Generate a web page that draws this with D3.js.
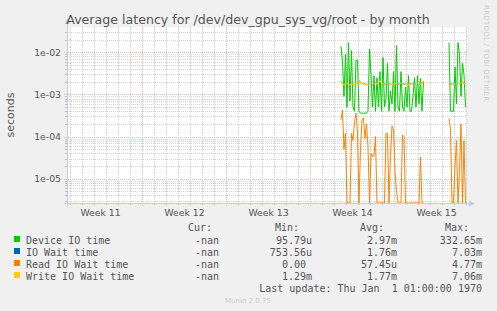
<!DOCTYPE html>
<html>
<head>
<meta charset="utf-8">
<script src="https://cdn.jsdelivr.net/npm/d3@7"></script>
<style>
  body { margin: 0; background: #f0f0f0; }
  svg { display: block; }
  .mono { font-family: "DejaVu Sans Mono", monospace; font-size: 10px; fill: #555; white-space: pre; }
</style>
</head>
<body>
<div class="wrap"></div>
<script>
var width = 497, height = 311;

// time is in days since the start of Week 11
var weekLabels = ["Week 11", "Week 12", "Week 13", "Week 14", "Week 15"];
var weekMid = [3.5, 10.5, 17.5, 24.5, 31.5];
var yTicks = [1e-2, 1e-3, 1e-4, 1e-5];
var yTickLabels = ["1e-02", "1e-03", "1e-04", "1e-05"];

// two runs of samples, 3 hours apart
var stepDays = 0.125;
var startA = 23.583, startB = 32.583;

var deviceA = [0.014, 0.006, 0.0009, 0.009, 0.0005, 0.017, 0.0007, 0.011, 0.0005, 0.0004,
  0.0065, 0.0065, 0.0004, 0.00036, 0.00036, 0.00036, 0.00036, 0.00036, 0.0004, 0.012,
  0.003, 0.0005, 0.0028, 0.0004, 0.0025, 0.0005, 0.0035, 0.0004, 0.0075, 0.0005,
  0.0008, 0.0055, 0.0004, 0.0012, 0.0006, 0.0035, 0.0004, 0.0145, 0.0005, 0.0004,
  0.0035, 0.0005, 0.0004, 0.0015, 0.0005, 0.0028, 0.0004, 0.0004, 0.0009, 0.0025,
  0.0005, 0.0028, 0.0006, 0.0024, 0.0004, 0.002];
var deviceB = [0.017, 0.0004, 0.0004, 0.0004, 0.0045, 0.0006, 0.017, 0.009, 0.0009, 0.0055, 0.003, 0.0005];

var ioWaitA = [2.0e-3, 1.8e-3, 1.7e-3, 1.8e-3, 1.9e-3, 1.75e-3, 1.7e-3, 1.8e-3, 1.75e-3, 1.7e-3,
  1.8e-3, 1.9e-3, 2.2e-3, 1.9e-3, 1.8e-3, 1.8e-3, 1.75e-3, 1.7e-3, 1.75e-3, 1.8e-3,
  1.8e-3, 1.75e-3, 1.8e-3, 1.85e-3, 1.8e-3, 1.9e-3, 2.1e-3, 1.9e-3, 1.8e-3, 1.75e-3,
  1.8e-3, 1.8e-3, 1.75e-3, 1.8e-3, 1.7e-3, 1.75e-3, 1.8e-3, 1.8e-3, 1.75e-3, 1.8e-3,
  1.85e-3, 1.8e-3, 1.75e-3, 1.8e-3, 1.8e-3, 1.7e-3, 1.75e-3, 1.8e-3, 1.8e-3, 1.75e-3,
  1.8e-3, 1.85e-3, 1.8e-3, 1.75e-3, 1.9e-3, 2.0e-3];
var ioWaitB = [1.75e-3, 1.75e-3, 1.8e-3, 1.8e-3, 1.75e-3, 1.8e-3, 1.85e-3, 1.8e-3, 1.9e-3, 2.0e-3, 1.8e-3, 1.8e-3];

var readA = [2.5e-4, 4.3e-4, 5e-5, 1.2e-4, 0, 0, 0, 1.2e-4, 8e-5, 2.2e-4,
  3.6e-4, 1.2e-4, 0, 5e-5, 2.5e-4, 2.8e-4, 9e-5, 2e-4, 6e-5, 0,
  4e-5, 3.3e-5, 3.5e-5, 1e-4, 0, 0, 0, 0, 0, 0,
  1.2e-4, 1.2e-4, 0, 3.5e-5, 1.8e-4, 1.5e-4, 1.5e-5, 5e-6, 0, 0,
  0, 1.1e-4, 1e-4, 0, 0, 0, 0, 0, 0, 0,
  0, 0, 0, 3.3e-5, 0, 0];
var readB = [2.7e-4, 1.5e-4, 0, 0, 2e-5, 8e-5, 0, 1.5e-5, 2e-4, 0, 8e-5, 0];

var writeA = [2.1e-3, 1.8e-3, 1.7e-3, 1.8e-3, 1.9e-3, 1.75e-3, 1.7e-3, 1.8e-3, 1.75e-3, 1.7e-3,
  1.8e-3, 1.9e-3, 2.2e-3, 1.9e-3, 1.8e-3, 1.8e-3, 1.75e-3, 1.7e-3, 1.75e-3, 1.8e-3,
  1.8e-3, 1.75e-3, 1.8e-3, 1.85e-3, 1.8e-3, 1.9e-3, 2.1e-3, 1.9e-3, 1.8e-3, 1.75e-3,
  1.8e-3, 1.8e-3, 1.75e-3, 1.8e-3, 1.7e-3, 1.75e-3, 1.8e-3, 1.8e-3, 1.75e-3, 1.8e-3,
  1.85e-3, 1.8e-3, 1.75e-3, 1.8e-3, 1.8e-3, 1.7e-3, 1.75e-3, 1.8e-3, 1.8e-3, 1.75e-3,
  1.8e-3, 1.85e-3, 1.8e-3, 1.75e-3, 1.9e-3, 2.0e-3];
var writeB = [1.8e-3, 1.75e-3, 1.8e-3, 1.8e-3, 1.75e-3, 1.8e-3, 1.85e-3, 1.8e-3, 1.9e-3, 2.0e-3, 1.8e-3, 1.8e-3];

var seriesNames = ["Device IO time", "IO Wait time", "Read IO Wait time", "Write IO Wait time"];
var seriesColors = ["#00cc00", "#0066b3", "#ff8000", "#ffcc00"];
var curVals = ["-nan", "-nan", "-nan", "-nan"];
var minVals = ["95.79u", "753.56u", "0.00", "1.29m"];
var avgVals = ["2.97m", "1.76m", "57.45u", "1.77m"];
var maxVals = ["332.65m", "7.03m", "4.77m", "7.06m"];

var series = [[deviceA, deviceB], [ioWaitA, ioWaitB], [readA, readB], [writeA, writeB]];

var plot = {left: 67, right: 467, top: 27, bottom: 203};

var svg = d3.select(".wrap").append("svg")
    .attr("width", width)
    .attr("height", height);

svg.append("rect").attr("width", width).attr("height", height).attr("fill", "#f0f0f0");

var x = d3.scaleLinear()
    .domain([0.75, 0.75 + (plot.right - plot.left) / 12])
    .range([plot.left, plot.right]);

var y = d3.scaleLog()
    .domain([2.65e-6, 0.04])
    .range([plot.bottom, plot.top])
    .clamp(true);

svg.append("rect")
    .attr("x", plot.left).attr("y", plot.top)
    .attr("width", plot.right - plot.left).attr("height", plot.bottom - plot.top)
    .attr("fill", "#fff");

// grid
var grid = svg.append("g").attr("shape-rendering", "crispEdges");
var minorY = [];
[-6, -5, -4, -3, -2, -1].forEach(function(e) {
  for (var m = 2; m <= 9; m++) {
    var v = m * Math.pow(10, e);
    if (v > y.domain()[0] && v < y.domain()[1]) minorY.push(v);
  }
});
grid.selectAll(".hminor").data(minorY).enter().append("line")
    .attr("x1", plot.left).attr("x2", plot.right)
    .attr("y1", function(d) { return Math.round(y(d)) + 0.5; })
    .attr("y2", function(d) { return Math.round(y(d)) + 0.5; })
    .attr("stroke", "#d4d4d4").attr("stroke-dasharray", "1,1");

var days = d3.range(1, 35).filter(function(d) { return d % 7 != 0 && x(d) < plot.right; });
grid.selectAll(".vminor").data(days).enter().append("line")
    .attr("y1", plot.top).attr("y2", plot.bottom)
    .attr("x1", function(d) { return Math.round(x(d)) + 0.5; })
    .attr("x2", function(d) { return Math.round(x(d)) + 0.5; })
    .attr("stroke", "#d0d0d0").attr("stroke-dasharray", "1,1");

var weeks = [7, 14, 21, 28];
grid.selectAll(".vmajor").data(weeks).enter().append("line")
    .attr("y1", plot.top).attr("y2", plot.bottom + 3)
    .attr("x1", function(d) { return Math.round(x(d)) + 0.5; })
    .attr("x2", function(d) { return Math.round(x(d)) + 0.5; })
    .attr("stroke", "#eeb4b4").attr("stroke-dasharray", "1,1");

grid.selectAll(".hmajor").data(yTicks).enter().append("line")
    .attr("x1", plot.left - 3).attr("x2", plot.right)
    .attr("y1", function(d) { return Math.round(y(d)) + 0.5; })
    .attr("y2", function(d) { return Math.round(y(d)) + 0.5; })
    .attr("stroke", "#eeb4b4").attr("stroke-dasharray", "1,1");

// small ticks under the axis
grid.selectAll(".dtick").data(days).enter().append("line")
    .attr("y1", plot.bottom).attr("y2", plot.bottom + 2)
    .attr("x1", function(d) { return Math.round(x(d)) + 0.5; })
    .attr("x2", function(d) { return Math.round(x(d)) + 0.5; })
    .attr("stroke", "#bbb");
grid.selectAll(".ytick").data(minorY).enter().append("line")
    .attr("x1", plot.left - 2).attr("x2", plot.left)
    .attr("y1", function(d) { return Math.round(y(d)) + 0.5; })
    .attr("y2", function(d) { return Math.round(y(d)) + 0.5; })
    .attr("stroke", "#bbb");

// data lines
var line = d3.line()
    .x(function(d) { return x(d[0]); })
    .y(function(d) { return y(d[1] > 0 ? d[1] : y.domain()[0]); });

series.forEach(function(runs, si) {
  [startA, startB].forEach(function(t0, ri) {
    var pts = runs[ri].map(function(v, i) { return [t0 + i * stepDays, v]; });
    svg.append("path")
        .datum(pts)
        .attr("d", line)
        .attr("fill", "none")
        .attr("stroke", seriesColors[si])
        .attr("stroke-width", si == 3 ? 1.2 : 1);
  });
});

// axes frame
var axisColor = "#c5c9e6";
svg.append("line").attr("x1", plot.left + 0.5).attr("x2", plot.left + 0.5)
    .attr("y1", plot.bottom + 3).attr("y2", plot.top - 4)
    .attr("stroke", axisColor);
svg.append("line").attr("x1", plot.left - 3).attr("x2", plot.right + 3)
    .attr("y1", plot.bottom + 0.5).attr("y2", plot.bottom + 0.5)
    .attr("stroke", axisColor);
svg.append("path")
    .attr("d", "M" + (plot.left - 2.5) + "," + (plot.top - 3) + "L" + (plot.left + 0.5) + "," + (plot.top - 9) + "L" + (plot.left + 3.5) + "," + (plot.top - 3) + "Z")
    .attr("fill", axisColor);
svg.append("path")
    .attr("d", "M" + (plot.right + 2) + "," + (plot.bottom - 2.5) + "L" + (plot.right + 8) + "," + (plot.bottom + 0.5) + "L" + (plot.right + 2) + "," + (plot.bottom + 3.5) + "Z")
    .attr("fill", axisColor);

// week labels
var xAxis = svg.append("g")
    .attr("transform", "translate(0," + plot.bottom + ")")
    .call(d3.axisBottom(x)
      .tickValues(weekMid)
      .tickSize(0)
      .tickPadding(6)
      .tickFormat(function(d, i) { return weekLabels[i]; }));
xAxis.select(".domain").remove();
xAxis.selectAll("text")
    .attr("font-family", "DejaVu Sans")
    .attr("font-size", "9.3px")
    .attr("fill", "#555");

// y labels
var yAxis = svg.append("g")
    .attr("transform", "translate(" + plot.left + ",0)")
    .call(d3.axisLeft(y)
      .tickValues(yTicks)
      .tickSize(0)
      .tickPadding(6)
      .tickFormat(function(d, i) { return yTickLabels[i]; }));
yAxis.select(".domain").remove();
yAxis.selectAll("text")
    .attr("font-family", "DejaVu Sans")
    .attr("font-size", "9.3px")
    .attr("fill", "#555");

// title and side texts
svg.append("text")
    .attr("x", 248).attr("y", 24)
    .attr("text-anchor", "middle")
    .attr("font-family", "DejaVu Sans")
    .attr("font-size", "12.6px")
    .attr("fill", "#555")
    .text("Average latency for /dev/dev_gpu_sys_vg/root - by month");

svg.append("text")
    .attr("transform", "translate(14,115) rotate(-90)")
    .attr("text-anchor", "middle")
    .attr("font-family", "DejaVu Sans")
    .attr("font-size", "11px")
    .attr("fill", "#555")
    .text("seconds");

svg.append("text")
    .attr("transform", "translate(484,5) rotate(90)")
    .attr("font-family", "DejaVu Sans")
    .attr("font-size", "7px")
    .attr("textLength", 96)
    .attr("fill", "#ccc")
    .text("RRDTOOL / TOBI OETIKER");

// legend
var legend = svg.append("g");
var charW = 6.02;
function valX(right, s) {
  // values without a unit suffix keep a trailing blank
  return /[0-9]$/.test(s) ? right - charW : right;
}
[["Cur:", 212], ["Min:", 299], ["Avg:", 384], ["Max:", 469]].forEach(function(h) {
  legend.append("text").attr("class", "mono")
      .attr("x", h[1]).attr("y", 231).attr("text-anchor", "end").text(h[0]);
});
seriesNames.forEach(function(name, i) {
  var yy = 243.5 + i * 12;
  legend.append("rect")
      .attr("x", 14).attr("y", yy - 7.5).attr("width", 6).attr("height", 6)
      .attr("fill", seriesColors[i]);
  legend.append("text").attr("class", "mono").attr("x", 26).attr("y", yy).text(name);
  legend.append("text").attr("class", "mono").attr("text-anchor", "end")
      .attr("x", valX(219, curVals[i])).attr("y", yy).text(curVals[i]);
  legend.append("text").attr("class", "mono").attr("text-anchor", "end")
      .attr("x", valX(312, minVals[i])).attr("y", yy).text(minVals[i]);
  legend.append("text").attr("class", "mono").attr("text-anchor", "end")
      .attr("x", valX(397, avgVals[i])).attr("y", yy).text(avgVals[i]);
  legend.append("text").attr("class", "mono").attr("text-anchor", "end")
      .attr("x", valX(482, maxVals[i])).attr("y", yy).text(maxVals[i]);
});
legend.append("text").attr("class", "mono").attr("text-anchor", "end")
    .attr("x", 482).attr("y", 291.5)
    .text("Last update: Thu Jan  1 01:00:00 1970");

svg.append("text")
    .attr("x", 248).attr("y", 303)
    .attr("text-anchor", "middle")
    .attr("font-family", "DejaVu Sans")
    .attr("font-size", "7px")
    .attr("fill", "#ccc")
    .text("Munin 2.0.75");
</script>
</body>
</html>
